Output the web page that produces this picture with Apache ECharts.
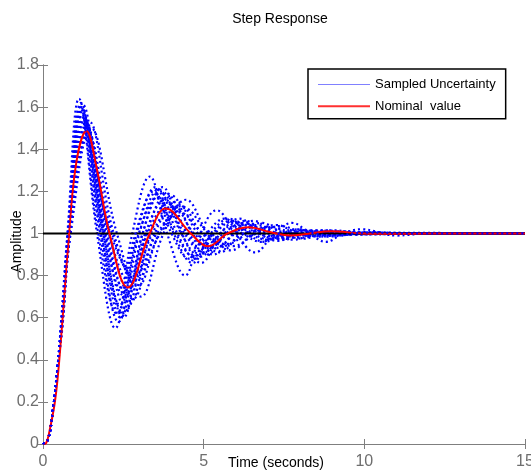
<!DOCTYPE html>
<html>
<head>
<meta charset="utf-8">
<script src="https://cdn.jsdelivr.net/npm/echarts@6/dist/echarts.min.js"></script>
<style>
  html, body { margin: 0; padding: 0; background: #fff; }
  #main { width: 531px; height: 471px; }
</style>
</head>
<body>
<div id="main"></div>
<script>
// axis ticks
const xTicks = [0, 5, 10, 15];
const yTicks = [0, 0.2, 0.4, 0.6, 0.8, 1, 1.2, 1.4, 1.6, 1.8];

// common start of every response [time, amplitude]
const riseStart = [[0, 0], [0.15, 0.02], [0.3, 0.15], [0.45, 0.36]];

// nominal response (red)
const nominal = [[0, 0], [0.1, 0.005], [0.2, 0.06], [0.36, 0.19], [0.46, 0.32], [0.57, 0.52], [0.67, 0.72],
  [0.77, 0.92], [1.03, 1.33], [1.35, 1.486], [1.67, 1.31], [2.07, 1.0], [2.64, 0.743], [3.32, 1.0],
  [3.82, 1.118], [4.6, 1.0], [5.13, 0.939], [5.75, 1.0], [6.4, 1.03], [7.06, 1.007], [7.7, 0.99],
  [8.3, 1.0], [8.95, 1.01], [9.95, 1.0], [11, 0.998], [12, 1.0], [15, 1.0]];

// sampled uncertainty responses (blue, dotted)
const sampleA = [[0.6, 0.66], [0.76, 1.0], [1.12, 1.64], [1.68, 1.0], [2.25, 0.55], [2.78, 1.0], [3.32, 1.27],
  [3.86, 1.0], [4.42, 0.80], [4.9, 1.0], [5.4, 1.11], [6.0, 1.0], [6.6, 0.91], [7.2, 1.0], [7.75, 1.05],
  [8.3, 1.0], [8.8, 0.96], [9.35, 1.0], [9.9, 1.02], [11, 0.99], [12, 1.0], [15, 1.0]];
const sampleB = [[0.6, 0.63], [0.78, 1.0], [1.18, 1.62], [1.78, 1.0], [2.35, 0.58], [2.92, 1.0], [3.5, 1.22],
  [4.07, 1.0], [4.65, 0.86], [5.22, 1.0], [5.8, 1.07], [6.35, 1.0], [6.9, 0.96], [7.45, 1.0], [8.0, 1.02],
  [8.55, 1.0], [9.1, 0.99], [10.2, 1.005], [12, 1.0], [15, 1.0]];
const sampleC = [[0.6, 0.62], [0.79, 1.0], [1.2, 1.60], [1.82, 1.0], [2.42, 0.60], [3.0, 1.0], [3.6, 1.21],
  [4.18, 1.0], [4.75, 0.88], [5.35, 1.0], [5.95, 1.06], [6.52, 1.0], [7.1, 0.97], [7.65, 1.0], [8.2, 1.015],
  [9.3, 0.995], [10.5, 1.0], [15, 1.0]];
const sampleD = [[0.6, 0.61], [0.8, 1.0], [1.22, 1.58], [1.87, 1.0], [2.5, 0.62], [3.1, 1.0], [3.7, 1.20],
  [4.3, 1.0], [4.9, 0.89], [5.5, 1.0], [6.1, 1.05], [6.7, 1.0], [7.3, 0.975], [7.9, 1.0], [8.5, 1.01],
  [9.7, 0.997], [11, 1.0], [15, 1.0]];
const sampleE = [[0.6, 0.6], [0.81, 1.0], [1.25, 1.57], [1.93, 1.0], [2.6, 0.64], [3.22, 1.0], [3.85, 1.19],
  [4.48, 1.0], [5.1, 0.90], [5.7, 1.0], [6.3, 1.06], [6.9, 1.0], [7.5, 0.97], [8.1, 1.0], [8.7, 1.015],
  [9.9, 0.995], [11, 1.0], [15, 1.0]];
const sampleF = [[0.6, 0.59], [0.82, 1.0], [1.28, 1.55], [1.99, 1.0], [2.7, 0.67], [3.35, 1.0], [4.0, 1.18],
  [4.65, 1.0], [5.3, 0.90], [5.92, 1.0], [6.55, 1.06], [7.18, 1.0], [7.8, 0.97], [8.4, 1.0], [9.0, 1.015],
  [10.2, 0.995], [11.5, 1.0], [15, 1.0]];
const sampleG = [[0.6, 0.58], [0.83, 1.0], [1.3, 1.54], [2.05, 1.0], [2.8, 0.69], [3.48, 1.0], [4.15, 1.15],
  [4.82, 1.0], [5.5, 0.91], [6.15, 1.0], [6.8, 1.05], [7.45, 1.0], [8.1, 0.975], [8.7, 1.0], [9.3, 1.01],
  [10.6, 0.997], [12, 1.0], [15, 1.0]];
const sampleH = [[0.6, 0.6], [0.81, 1.0], [1.25, 1.52], [1.9, 1.0], [2.55, 0.70], [3.18, 1.0], [3.8, 1.16],
  [4.4, 1.0], [5.0, 0.91], [5.62, 1.0], [6.25, 1.05], [6.82, 1.0], [7.4, 0.975], [8.0, 1.0], [8.6, 1.01],
  [9.8, 0.997], [11, 1.0], [15, 1.0]];
const sampleI = [[0.6, 0.59], [0.83, 1.0], [1.3, 1.50], [1.95, 1.0], [2.6, 0.72], [3.25, 1.0], [3.9, 1.14],
  [4.52, 1.0], [5.15, 0.93], [5.78, 1.0], [6.4, 1.04], [7.0, 1.0], [7.6, 0.98], [8.2, 1.0], [8.8, 1.008],
  [10, 1.0], [15, 1.0]];
const sampleJ = [[0.6, 0.62], [0.79, 1.0], [1.2, 1.56], [1.8, 1.0], [2.4, 0.66], [2.98, 1.0], [3.55, 1.17],
  [4.12, 1.0], [4.7, 0.89], [5.28, 1.0], [5.85, 1.06], [6.42, 1.0], [7.0, 0.97], [7.55, 1.0], [8.1, 1.015],
  [9.2, 0.993], [10.4, 1.003], [15, 1.0]];
const sampleK = [[0.6, 0.57], [0.84, 1.0], [1.35, 1.45], [2.1, 1.0], [2.85, 0.80], [3.55, 1.0], [4.25, 1.10],
  [4.98, 1.0], [5.7, 0.95], [6.4, 1.0], [7.1, 1.03], [7.8, 1.0], [8.5, 0.99], [10, 1.0], [15, 1.0]];
const sampleL = [[0.6, 0.56], [0.85, 1.0], [1.4, 1.48], [2.15, 1.0], [2.9, 0.78], [3.65, 1.0], [4.4, 1.12],
  [5.15, 1.0], [5.9, 0.94], [6.65, 1.0], [7.4, 1.035], [8.1, 1.0], [8.8, 0.985], [10.2, 1.004], [11.5, 1.0], [15, 1.0]];
const sampleM = [[0.6, 0.55], [0.86, 1.0], [1.5, 1.50], [2.3, 1.0], [3.05, 0.70], [3.75, 1.0], [4.45, 1.16],
  [5.15, 1.0], [5.85, 0.92], [6.55, 1.0], [7.25, 1.04], [7.95, 1.0], [8.65, 0.985], [9.35, 1.0], [10, 1.006],
  [11.5, 0.998], [13, 1.0], [15, 1.0]];
const sampleN = [[0.6, 0.57], [0.85, 1.0], [1.45, 1.53], [2.2, 1.0], [2.95, 0.75], [3.62, 1.0], [4.3, 1.13],
  [4.95, 1.0], [5.6, 0.94], [6.28, 1.0], [6.95, 1.03], [7.6, 1.0], [8.3, 0.99], [9.7, 1.003], [11, 1.0], [15, 1.0]];
const sampleP = [[0.6, 0.6], [0.8, 1.0], [1.25, 1.61], [1.88, 1.0], [2.5, 0.6], [3.1, 1.0], [3.72, 1.22],
  [4.32, 1.0], [4.92, 0.86], [5.52, 1.0], [6.12, 1.07], [6.72, 1.0], [7.32, 0.965], [7.9, 1.0], [8.5, 1.015],
  [9.6, 0.994], [10.8, 1.002], [15, 1.0]];
const sampleQ = [[0.6, 0.58], [0.83, 1.0], [1.35, 1.52], [2.05, 1.0], [2.75, 0.76], [3.4, 1.0], [4.05, 1.13],
  [4.7, 1.0], [5.35, 0.93], [6.0, 1.0], [6.65, 1.04], [7.3, 1.0], [7.95, 0.98], [9.2, 1.006], [10.5, 1.0], [15, 1.0]];
const sampleO = [[0.6, 0.64], [0.77, 1.0], [1.15, 1.60], [1.72, 1.0], [2.3, 0.62], [2.88, 1.0], [3.45, 1.20],
  [4.0, 1.0], [4.55, 0.88], [5.1, 1.0], [5.65, 1.07], [6.22, 1.0], [6.8, 0.96], [7.35, 1.0], [7.9, 1.02],
  [8.45, 1.0], [9.0, 0.99], [10.1, 1.004], [11.5, 1.0], [15, 1.0]];

// reference level
const refLine = [[0, 1], [15, 1]];

const blueUnder = [sampleA, sampleB, sampleC, sampleD, sampleE, sampleF, sampleG, sampleH,
  sampleI, sampleJ, sampleK, sampleL, sampleM, sampleN, sampleP, sampleQ];

const font = "'Liberation Sans', Arial, sans-serif";
const axisGrey = '#7f7f7f';

let chart = echarts.init(document.getElementById('main'));

//样本曲线
const blueSeries = (pts) => ({
  name: 'Sampled Uncertainty',
  type: 'line',
  data: riseStart.concat(pts),
  smooth: 0.4,
  showSymbol: false,
  symbol: 'none',
  silent: true,
  lineStyle: { color: '#0000ff', width: 2.2, type: [2, 3] }
});

let series = blueUnder.map(blueSeries);
series.push({
  name: 'ref', type: 'line', data: refLine, symbol: 'none', silent: true,
  lineStyle: { color: '#000', width: 2 }
});
series.push({
  name: 'Nominal  value', type: 'line', data: nominal, smooth: 0.4, symbol: 'none', silent: true,
  lineStyle: { color: '#ff0000', width: 2 }
});
series.push(blueSeries(sampleO));

// value axes: bottom/left with labels, top/right only ticks
const baseAxis = {
  type: 'value',
  nameMoveOverlap: false,
  axisLine: { show: true, lineStyle: { color: axisGrey, width: 1 } },
  axisTick: { show: true, inside: true, length: 5, lineStyle: { color: axisGrey } },
  splitLine: { show: false }
};

let option = {
  backgroundColor: '#fff',
  animation: false,
  textStyle: { fontFamily: font },
  title: {
    text: 'Step Response',
    left: 275,
    top: 7,
    textAlign: 'center',
    textStyle: { fontSize: 14, fontWeight: 'normal', color: '#000', fontFamily: font }
  },
  legend: {
    orient: 'vertical',
    left: 308,
    top: 69,
    padding: [9, 10, 6, 10],
    itemGap: 8.7,
    itemWidth: 52,
    itemHeight: 14,
    symbolKeepAspect: true,
    backgroundColor: '#fff',
    borderColor: '#000',
    borderWidth: 1.5,
    borderRadius: 0,
    selectedMode: false,
    textStyle: { fontSize: 13, color: '#000', fontFamily: font },
    data: [
      { name: 'Sampled Uncertainty', icon: 'path://M0,0L52,0L52,1L0,1Z', itemStyle: { color: '#8080ff' } },
      { name: 'Nominal  value', icon: 'path://M0,0L26,0L26,1L0,1Z', itemStyle: { color: '#ff3030' } }
    ]
  },
  grid: { left: 43, right: 6, top: 65, bottom: 27, outerBoundsMode: 'none', containLabel: false },
  xAxis: [
    Object.assign({}, baseAxis, {
      min: xTicks[0], max: xTicks[xTicks.length - 1], interval: 5,
      name: 'Time (seconds)',
      nameLocation: 'middle',
      nameGap: 12,
      nameTextStyle: { fontSize: 14, color: '#000', fontFamily: font, padding: [0, 16, 0, 0] },
      axisLabel: { fontSize: 16, color: '#6e6e6e', margin: 10, fontFamily: font }
    }),
    Object.assign({}, baseAxis, {
      position: 'top', min: xTicks[0], max: xTicks[xTicks.length - 1], interval: 5,
      axisLabel: { show: false }
    })
  ],
  yAxis: [
    Object.assign({}, baseAxis, {
      min: yTicks[0], max: yTicks[yTicks.length - 1], interval: 0.2,
      name: 'Amplitude',
      nameLocation: 'middle',
      nameGap: 19,
      nameTextStyle: { fontSize: 14, color: '#000', fontFamily: font, padding: [0, 0, 0, 26] },
      axisLabel: { fontSize: 16, color: '#6e6e6e', margin: 4, fontFamily: font }
    }),
    Object.assign({}, baseAxis, {
      position: 'right', min: yTicks[0], max: yTicks[yTicks.length - 1], interval: 0.2,
      axisLabel: { show: false }
    })
  ],
  series: series
};

chart.setOption(option);
</script>
</body>
</html>
